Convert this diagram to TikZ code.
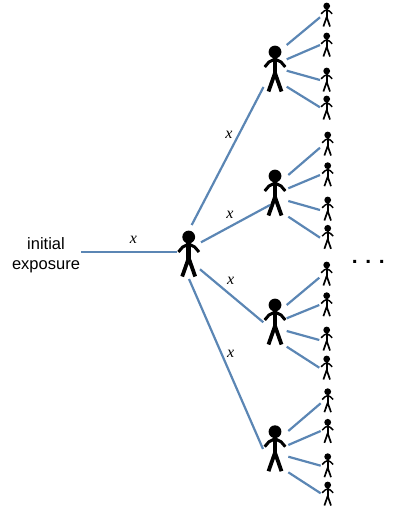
\documentclass[tikz,border=0pt]{standalone}
\usepackage{fontspec}
\setmainfont{Liberation Sans}
\newfontfamily\serifx{Liberation Serif}
\definecolor{linkblue}{HTML}{5B86B4}
\tikzset{
  x=1pt,y=-1pt,
  link/.style={line width=2.2pt,draw=linkblue},
  limb/.style={line width=#1,draw=black,line join=round},
  varlabel/.style={font=\serifx\itshape\fontsize{16}{16}\selectfont,inner sep=0pt},
  lead/.style={font=\fontsize{16.5}{19.5}\selectfont,align=center,inner sep=0pt},
  bigman/.pic={
    \fill (0,0) circle[radius=6.4];
    \draw[limb=3pt] (-10.3,15) -- (-6,10) -- (0,7) -- (6,10) -- (10.3,15);
    \draw[limb=3.8pt] (-6.5,39.5) -- (0,21) -- (6.5,39.5);
    \draw[limb=4.6pt] (0,4) -- (0,23);
  },
  smallman/.pic={
    \fill (0,0) circle[radius=3.4];
    \draw[limb=1.5pt] (-5.5,7.8) -- (-2.8,5.2) -- (0,3.8) -- (2.8,5.2) -- (5.5,7.8);
    \draw[limb=1.7pt] (-3.3,20.5) -- (0,11) -- (3.3,20.5);
    \draw[limb=2.4pt] (0,2) -- (0,12);
  }
}
\begin{document}
\begin{tikzpicture}
\useasboundingbox (0,0) rectangle (409,511);
\node[lead] (lead) at (46,255) {initial\\exposure};
\coordinate (leadend) at (81,252);
\pic (c) at (188.7,237) {bigman};
\coordinate (cin) at (176.7,252);
\coordinate (c1) at (191.7,225);
\coordinate (c2) at (201,242.3);
\coordinate (c3) at (200,269.3);
\coordinate (c4) at (189,279);
\pic (a) at (275,52) {bigman};
\pic (b) at (275,176) {bigman};
\pic (d) at (275,305) {bigman};
\pic (e) at (275,431.7) {bigman};
\coordinate (ai) at (263.5,87);
\coordinate (bi) at (270,205);
\coordinate (di) at (263.3,322.3);
\coordinate (ei) at (263,449);
\foreach \g/\k/\sx/\sy/\ox/\oy/\ix/\iy in {
  a/1/326.7/6/286.7/45/320/17.3,
  a/2/326.7/36/286.7/59.3/320/45,
  a/3/326.7/71/286.7/70.7/320/80,
  a/4/326.7/99/286.7/86.7/320/107.3,
  b/1/327.7/135/288.3/175/320/147.7,
  b/2/327.7/165.7/288.3/188.3/320/175,
  b/3/327.7/200/288.3/201/320/210,
  b/4/327.7/228.3/288.3/216.7/320/237.7,
  d/1/326.7/265/286.7/305/319.3/277.7,
  d/2/326.7/295.7/286.7/318.3/319.3/305,
  d/3/326.7/330/286.7/331/319.3/340,
  d/4/326.7/359/286.7/346.7/319.3/367.7,
  e/1/327.7/391.7/288.3/431/320.7/403.3,
  e/2/327.7/422.3/288.3/445/320.7/431,
  e/3/327.7/456.7/288.3/456.7/320.7/465.7,
  e/4/327.7/485/288.3/472.3/320.7/493.3}{
  \pic (\g\k) at (\sx,\sy) {smallman};
  \coordinate (\g\k from) at (\ox,\oy);
  \coordinate (\g\k to) at (\ix,\iy);
  \draw[link] (\g\k from) -- (\g\k to);
}
\draw[link] (leadend) -- (cin);
\draw[link] (c1) -- (ai);
\draw[link] (c2) -- (bi);
\draw[link] (c3) -- (di);
\draw[link] (c4) -- (ei);
\node[varlabel] (x0) at (133.3,240) {x};
\node[varlabel] (x1) at (229,135) {x};
\node[varlabel] (x2) at (230,215) {x};
\node[varlabel] (x3) at (230.7,280.5) {x};
\node[varlabel] (x4) at (230.7,353.5) {x};
\node[font=\bfseries\fontsize{21}{21}\selectfont,inner sep=0pt,anchor=base] (dots) at (368.3,263) {. . .};
\end{tikzpicture}
\end{document}
